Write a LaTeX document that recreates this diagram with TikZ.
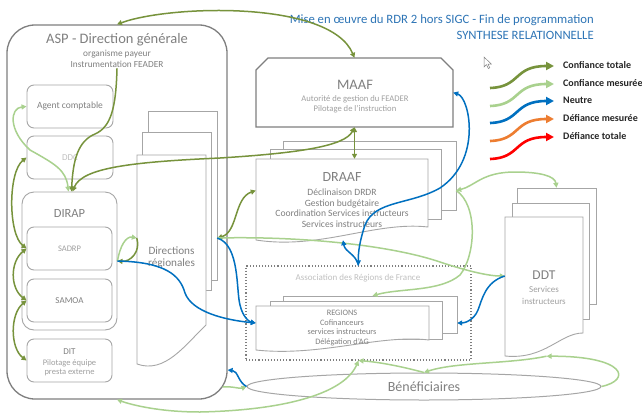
\documentclass[tikz,border=0pt]{standalone}
\usepackage{fontspec}
\setmainfont{Carlito}
\usetikzlibrary{arrows.meta,shapes.geometric}
\definecolor{dgreen}{HTML}{77933C}
\definecolor{lgreen}{HTML}{A9D18E}
\definecolor{nblue}{HTML}{0070C0}
\definecolor{orng}{HTML}{ED7D31}
\definecolor{tblue}{HTML}{2E75B6}
\definecolor{bordg}{HTML}{7F7F7F}
\definecolor{pageg}{HTML}{A6A6A6}
\definecolor{txtg}{HTML}{808080}
\definecolor{ltxt}{HTML}{A0A0A0}
\definecolor{vltxt}{HTML}{C0C0C0}
\tikzset{
  fs/.style={font=\fontsize{#1}{\dimexpr #1pt*6/5\relax}\selectfont},
  fsb/.style 2 args={font=\fontsize{#1}{#2}\selectfont},
  ibox/.style={draw=pageg, line width=0.9pt, rounded corners=7pt, fill=white, inner sep=0pt},
  pagebox/.style={draw=pageg, line width=0.9pt, fill=white},
  ghost/.style={inner sep=0pt},
  dg/.style={draw=dgreen, line width=1.5pt},
  lg/.style={draw=lgreen, line width=1.5pt},
  bl/.style={draw=nblue, line width=1.5pt},
  legarrow/.style={line width=2.6pt, -{Triangle[length=8pt,width=8pt]}},
}
\begin{document}
\begin{tikzpicture}[x=1pt,y=-1pt,>={Triangle[length=5pt,width=5pt]}]
\useasboundingbox[fill=white] (0,0) rectangle (642,415);

% ---------- ASP ----------
\node[draw=bordg, line width=1.3pt, rounded corners=28pt, minimum width=220pt, minimum height=374pt, inner sep=0pt] (asp) at (117,212) {};
\node[fs=14.5, text=txtg] (asptitle) at (117,40) {ASP - Direction générale};
\node[fsb={9.3}{11}, text=txtg, align=center, inner sep=1pt] (aspsub) at (117,58.5) {organisme payeur\\Instrumentation FEADER};

\node[ibox, minimum width=86pt, minimum height=43pt, fs=9.5, text=txtg] (agent) at (70,106.5) {Agent comptable};
\node[ibox, minimum width=86pt, minimum height=43pt, fs=9, text=vltxt] (ddc) at (70,157.5) {DDC};
\node[ibox, rounded corners=12pt, minimum width=95pt, minimum height=138pt] (dirap) at (69.5,261) {};
\node[fs=12.5, text=txtg] (diraplbl) at (69.5,213) {DIRAP};
\node[ibox, minimum width=85pt, minimum height=43pt, fs=8.5, text=ltxt] (sadrp) at (69.5,248.5) {SADRP};
\node[ibox, minimum width=85pt, minimum height=43pt, fs=9, text=txtg] (samoa) at (69.5,300.5) {SAMOA};
\node[ibox, minimum width=85pt, minimum height=43pt] (dit) at (69.5,360.5) {};
\node[fs=9, text=txtg] (ditlbl) at (69.5,352) {DIT};
\node[fsb={8.5}{9}, text=ltxt, align=center] (ditsub) at (69.5,367.5) {Pilotage équipe\\presta externe};

% ---------- Directions regionales ----------
\draw[pagebox] (148,111) rectangle (217,280);
\draw[pagebox] (142,132) rectangle (211,290);
\draw[pagebox] (137,364) -- (137,155) -- (206,155) -- (206,325) .. controls (185,345) and (165,374) .. cycle;
\node[ghost, minimum width=80pt, minimum height=254pt] (dirreg) at (177,238) {};
\node[fsb={11.2}{12}, text=txtg, align=center] (dirreglbl) at (171.5,258) {Directions\\régionales};

% ---------- MAAF ----------
\draw[draw=bordg, line width=1.3pt, fill=white] (256,127) -- (256,70) -- (268,58) -- (441,58) -- (453,70) -- (453,127) -- cycle;
\node[ghost, minimum width=197pt, minimum height=69pt] (maaf) at (354.5,92.5) {};
\node[fs=14.5, text=txtg] (maaflbl) at (355,85) {MAAF};
\node[fsb={8.6}{10}, text=ltxt, align=center] (maafsub) at (355,104) {Autorité de gestion du FEADER\\Pilotage de l’instruction};

% ---------- DRAAF ----------
\draw[pagebox] (283,141) rectangle (456,210);
\draw[pagebox] (270,149) rectangle (441,219);
\draw[pagebox] (256,240) -- (256,159) -- (428,159) -- (428,227) .. controls (375,221) and (320,250) .. cycle;
\node[ghost, minimum width=200pt, minimum height=99pt] (draaf) at (356,190.5) {};
\node[fs=14, text=txtg] (draaflbl) at (342,177) {DRAAF};
\node[fsb={9.6}{10.6}, text=txtg, align=center] (draafsub) at (342,208) {Déclinaison DRDR\\Gestion budgétaire\\Coordination Services instructeurs\\Services instructeurs};

% ---------- Association des Regions de France ----------
\node[draw=bordg, line width=1.1pt, dotted, minimum width=225pt, minimum height=94pt, inner sep=0pt] (arf) at (358.5,313) {};
\node[fs=9, text=vltxt] (arflbl) at (358,278) {Association des Régions de France};
\draw[pagebox] (283,296) rectangle (457,333);
\draw[pagebox] (270,301) rectangle (442,339);
\draw[pagebox] (256,350) -- (256,306) -- (429,306) -- (429,340) .. controls (380,334) and (320,357) .. cycle;
\node[ghost, minimum width=201pt, minimum height=54pt] (regions) at (356.5,323) {};
\node[fsb={8.3}{9.4}, text=txtg, align=center] (regionslbl) at (342,328) {REGIONS\\Cofinanceurs\\services instructeurs\\Délégation d’AG};

% ---------- DDT ----------
\draw[pagebox] (517,188) rectangle (596,304);
\draw[pagebox] (512,203) rectangle (589,319);
\draw[pagebox] (505,356) -- (505,217) -- (583,217) -- (583,333) .. controls (560,333) and (545,360) .. cycle;
\node[ghost, minimum width=91pt, minimum height=168pt] (ddt) at (550.5,272) {};
\node[fs=13.5, text=txtg] (ddtlbl) at (544,275) {DDT};
\node[fsb={9}{12}, text=ltxt, align=center] (ddtsub) at (544,295) {Services\\instructeurs};

% ---------- Beneficiaires ----------
\node[draw=pageg, line width=1pt, ellipse, minimum width=354pt, minimum height=27pt, inner sep=0pt, fs=14, text=txtg] (ben) at (424,386.5) {Bénéficiaires};

% ---------- Title ----------
\node[fs=12.7, text=tblue, anchor=east, inner sep=0pt] (title1) at (594,20) {Mise en œuvre du RDR 2 hors SIGC - Fin de programmation};
\node[fs=12.7, text=tblue, anchor=east, inner sep=0pt] (title2) at (594,35) {SYNTHESE RELATIONNELLE};

% cursor
\draw[draw=gray, fill=white, line width=0.5pt] (484,57) -- (484,67) -- (486.5,64.6) -- (488.3,68.5) -- (489.8,67.8) -- (488,64) -- (491.3,64) -- cycle;

% ---------- Legend ----------
\foreach \yy/\cc/\tt in {65/dgreen/Confiance totale, 83/lgreen/Confiance mesurée, 100/nblue/Neutre, 118/orng/Défiance mesurée, 136/red/Défiance totale}{
  \node[fs=8.3, font=\bfseries, text=black!85, anchor=west, inner sep=0pt] (leg\yy) at (563,\yy) {\tt};
  \coordinate (ls\yy) at (490,{\yy+23});
  \draw[\cc, legarrow] (ls\yy) .. controls (521,{\yy+22}) and (513,{\yy+1}) .. ([xshift=-9pt,yshift=-1pt]leg\yy.west);
}

% ---------- Connectors: dark green ----------
\draw[dg,<->] (asp.north) .. controls (170,5) and (330,0) .. (maaf.north);
\draw[dg,->] (aspsub.south) .. controls (116,108) and (111,127) .. (95,134) .. controls (78,141) and (73,160) .. ([xshift=2pt]dirap.north);
\draw[dg,<->] ([xshift=3pt]dirap.north) .. controls (82,168) and (130,162) .. (220,158) .. controls (300,153) and (345,146) .. (maaf.south);
\draw[dg,<->] (maaf.south) -- ([xshift=-1.5pt,yshift=-18pt]draaf.north);
\draw[dg,<->] (ddc.west) .. controls (8,172) and (8,234) .. (sadrp.west);
\draw[dg,<->] (sadrp.west) .. controls (10,262) and (10,288) .. (samoa.west);
\draw[dg,<->] (samoa.west) .. controls (10,314) and (10,348) .. (dit.west);
\draw[dg,->] (dirreg.west) .. controls (141,252) and (130,262) .. (dirap.east);
\draw[dg,<->] (dirreg.east) .. controls (238,232) and (234,198) .. (draaf.west);

% ---------- Connectors: light green ----------
\draw[lg,<->] (agent.west) .. controls (10,108) and (8,130) .. (30,150) .. controls (55,164) and (66,170) .. ([xshift=-1pt]dirap.north);
\draw[lg,->] (dirap.east) .. controls (120,246) and (126,236) .. (dirreg.west);
\draw[lg,->] (dirreg.east) .. controls (300,236) and (390,245) .. (440,262) .. controls (470,272) and (490,276) .. ([yshift=-4pt]ddt.west);
\draw[lg,<->] (draaf.east) .. controls (475,186) and (482,172) .. (515,172) .. controls (540,172) and (555,176) .. ([xshift=6pt]ddt.north);
\draw[lg,->] (draaf.east) .. controls (478,205) and (476,255) .. (460,275) .. controls (440,292) and (400,288) .. ([xshift=16pt]regions.north);
\draw[lg,->] (ben.north) .. controls (400,366) and (378,362) .. (arf.south);
\draw[lg,->] ([xshift=-4pt]ddt.south) .. controls (510,364) and (455,362) .. (ben.north);
\draw[lg,->] (ben.east) .. controls (632,380) and (626,356) .. ([xshift=-4pt]ddt.south);
\draw[lg,<->] (arf.south) .. controls (345,392) and (290,410) .. (200,412) .. controls (160,412) and (132,405) .. (asp.south);
\draw[lg,->] ([xshift=-5pt,yshift=-175pt]asp.east) .. controls (232,386) and (240,389) .. (ben.west);

% ---------- Connectors: blue ----------
\draw[bl,->] (dirap.east) .. controls (165,262) and (180,275) .. (185,293) .. controls (192,312) and (225,320) .. (regions.west);
\draw[bl,->] (dirreg.east) .. controls (240,245) and (236,290) .. (240,305) .. controls (243,318) and (250,322) .. (regions.west);
\draw[bl,<->] (maaf.east) .. controls (470,98) and (482,160) .. (440,188) .. controls (410,205) and (375,200) .. (365,225) .. controls (360,240) and (358,252) .. (arf.north);
\draw[bl,<-] ([xshift=-13pt]draaf.south) .. controls (345,252) and (356,254) .. (arf.north);
\draw[bl,->] ([yshift=-4pt]ddt.west) .. controls (485,282) and (482,300) .. (478,310) .. controls (474,320) and (465,323) .. (regions.east);
\draw[bl,->] (ben.west) .. controls (238,382) and (238,371) .. ([yshift=-158pt]asp.east);
\end{tikzpicture}
\end{document}
